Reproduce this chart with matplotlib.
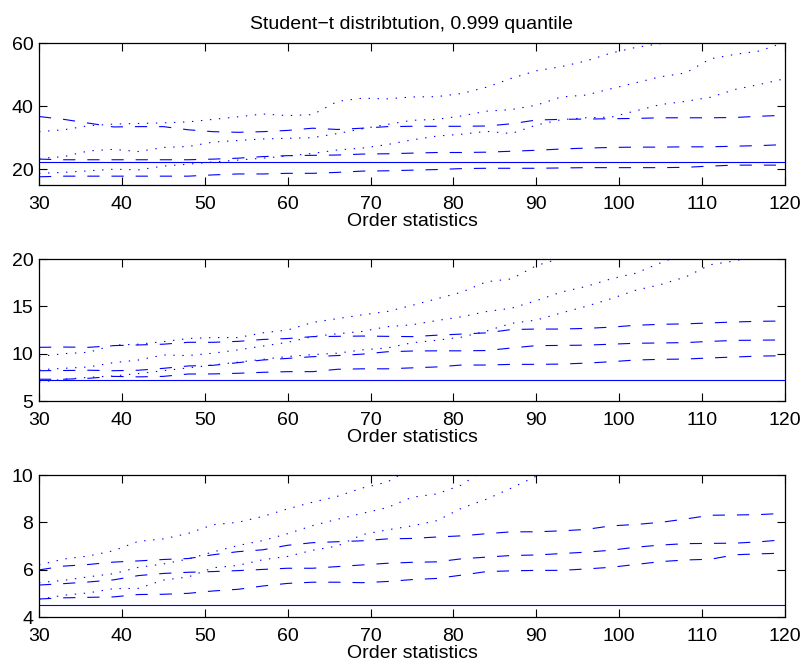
import numpy as np
import matplotlib
matplotlib.use("Agg")
import matplotlib.pyplot as plt

plt.rcParams['font.family'] = ['Liberation Sans', 'DejaVu Sans']
plt.rcParams['font.size'] = 14
plt.rcParams['lines.scale_dashes'] = False

order_stat = [30, 33, 36, 39, 42, 45, 48, 51, 54, 57, 60, 63, 66, 69, 72, 75,
              78, 81, 84, 87, 90, 93, 96, 99, 102, 105, 108, 111, 114, 117, 120]

# true 0.999 quantiles of t with 2, 4 and 8 degrees of freedom
true_q = [22.327, 7.173, 4.501]

# panel 1
p1_dash_hi = [36.7, 35.8, 34.6, 33.4, 33.5, 33.5, 32.5, 31.9, 31.7, 31.9, 32.3, 33.0, 32.6, 33.0, 33.5, 33.6,
              33.6, 33.6, 33.7, 34.4, 35.6, 35.8, 35.9, 36.0, 36.1, 36.3, 36.3, 36.3, 36.4, 36.8, 37.1]
p1_dash_mid = [23.2, 23.0, 23.0, 23.0, 23.0, 23.0, 23.0, 23.2, 23.5, 24.0, 24.3, 24.4, 24.5, 24.8, 24.9, 25.1,
               25.3, 25.3, 25.4, 25.7, 26.0, 26.4, 26.7, 26.9, 27.0, 27.0, 27.1, 27.1, 27.3, 27.5, 27.8]
p1_dash_lo = [17.6, 17.8, 17.8, 17.8, 17.8, 17.8, 17.8, 18.2, 18.5, 18.5, 18.7, 18.7, 19.0, 19.4, 19.5, 19.7,
              19.9, 20.2, 20.3, 20.3, 20.3, 20.4, 20.5, 20.5, 20.5, 20.5, 20.6, 21.0, 21.3, 21.3, 21.3]
p1_dot_hi = [31.9, 32.5, 33.8, 34.3, 34.5, 34.7, 35.0, 35.8, 36.6, 37.5, 37.0, 37.3, 41.5, 42.5, 42.3, 42.9,
             43.0, 44.0, 46.0, 48.8, 51.2, 52.5, 54.3, 56.8, 58.6, 59.8, 62.0]
p1_dot_mid = [23.4, 24.0, 25.8, 26.3, 25.6, 26.9, 27.2, 28.6, 29.1, 29.6, 29.8, 30.0, 31.3, 32.8, 34.2, 35.5,
              35.8, 36.9, 38.4, 38.9, 40.3, 42.9, 43.5, 45.5, 47.4, 49.3, 50.5, 55.0, 56.4, 57.5, 60.3]
p1_dot_lo = [18.7, 19.0, 19.5, 20.0, 19.8, 21.0, 21.6, 22.3, 22.9, 23.5, 24.2, 25.0, 26.1, 26.7, 27.8, 29.3,
             30.5, 31.1, 32.0, 31.3, 34.0, 35.7, 36.3, 36.5, 38.5, 40.5, 41.5, 42.8, 45.3, 46.9, 48.7]

# panel 2
p2_dash_hi = [10.67, 10.7, 10.67, 10.85, 10.92, 11.0, 11.2, 11.2, 11.3, 11.5, 11.6, 11.8, 11.83, 11.86, 11.83, 11.8,
              11.95, 12.07, 12.2, 12.55, 12.6, 12.6, 12.67, 12.8, 13.0, 13.1, 13.15, 13.25, 13.35, 13.42, 13.45]
p2_dash_mid = [8.2, 8.22, 8.25, 8.2, 8.25, 8.45, 8.7, 8.77, 9.05, 9.33, 9.5, 9.68, 9.8, 9.95, 10.2, 10.28,
               10.3, 10.3, 10.33, 10.6, 10.85, 10.87, 10.9, 11.0, 11.1, 11.13, 11.17, 11.3, 11.4, 11.43, 11.45]
p2_dash_lo = [7.3, 7.3, 7.4, 7.6, 7.55, 7.6, 7.85, 7.86, 7.93, 8.03, 8.1, 8.1, 8.35, 8.4, 8.4, 8.5,
              8.6, 8.8, 8.8, 8.87, 8.87, 8.9, 9.0, 9.15, 9.33, 9.4, 9.43, 9.55, 9.65, 9.75, 9.78]
p2_dot_hi = [9.7, 10.0, 10.15, 10.9, 11.0, 11.27, 11.6, 11.7, 11.7, 12.2, 12.5, 13.3, 13.7, 14.1, 14.45, 15.1,
             15.8, 16.5, 17.6, 17.9, 19.3, 20.1, 21.0]
p2_dot_mid = [8.3, 8.45, 8.6, 9.05, 9.33, 9.86, 9.8, 10.05, 10.4, 10.8, 11.2, 11.8, 12.1, 12.35, 12.85, 13.05,
              13.5, 13.9, 14.45, 14.8, 15.6, 16.5, 17.1, 17.9, 18.5, 19.6, 20.6]
p2_dot_lo = [7.0, 7.3, 7.5, 7.65, 7.9, 8.2, 8.5, 8.8, 9.1, 9.4, 9.7, 9.9, 10.05, 10.4, 10.6, 11.15,
             11.42, 11.75, 12.4, 13.2, 13.55, 14.3, 15.0, 15.8, 16.7, 17.3, 18.1, 19.4, 19.8, 20.5]

# panel 3
p3_dash_hi = [5.99, 6.15, 6.22, 6.32, 6.37, 6.43, 6.47, 6.63, 6.76, 6.84, 7.03, 7.14, 7.18, 7.22, 7.3, 7.32,
              7.38, 7.43, 7.52, 7.6, 7.6, 7.64, 7.7, 7.85, 7.91, 8.0, 8.14, 8.3, 8.31, 8.33, 8.38]
p3_dash_mid = [5.35, 5.41, 5.48, 5.57, 5.75, 5.84, 5.89, 5.92, 5.96, 6.01, 6.06, 6.06, 6.13, 6.2, 6.27, 6.31,
               6.33, 6.46, 6.53, 6.6, 6.62, 6.68, 6.74, 6.82, 6.95, 7.04, 7.1, 7.11, 7.12, 7.18, 7.27]
p3_dash_lo = [4.76, 4.81, 4.83, 4.85, 4.95, 4.96, 5.0, 5.1, 5.17, 5.31, 5.42, 5.47, 5.47, 5.45, 5.5, 5.58,
              5.63, 5.77, 5.92, 5.95, 5.97, 5.97, 6.03, 6.1, 6.22, 6.34, 6.41, 6.44, 6.63, 6.67, 6.7]
p3_dot_hi = [6.2, 6.45, 6.58, 6.8, 7.2, 7.3, 7.53, 7.9, 8.0, 8.25, 8.57, 8.85, 9.1, 9.45, 9.7, 10.3]
p3_dot_mid = [5.45, 5.55, 5.7, 5.83, 6.1, 6.24, 6.45, 6.75, 7.02, 7.23, 7.52, 7.86, 8.13, 8.38, 8.62, 9.06,
              9.2, 9.58, 10.3]
p3_dot_lo = [4.75, 4.92, 5.02, 5.2, 5.21, 5.56, 5.69, 6.08, 6.18, 6.42, 6.56, 6.82, 7.0, 7.48, 7.68, 7.85,
             8.07, 8.6, 8.98, 9.45, 9.95, 10.4]

x_ticks = [30, 40, 50, 60, 70, 80, 90, 100, 110, 120]
y_ticks = [[20, 40, 60], [5, 10, 15, 20], [4, 6, 8, 10]]
y_lims = [(15, 60), (5, 20), (4, 10)]

dashed = [[p1_dash_hi, p1_dash_mid, p1_dash_lo],
          [p2_dash_hi, p2_dash_mid, p2_dash_lo],
          [p3_dash_hi, p3_dash_mid, p3_dash_lo]]
dotted = [[p1_dot_hi, p1_dot_mid, p1_dot_lo],
          [p2_dot_hi, p2_dot_mid, p2_dot_lo],
          [p3_dot_hi, p3_dot_mid, p3_dot_lo]]


def pad(vals):
    # series that leave the top of the panel stop early
    out = np.full(len(order_stat), np.nan)
    out[:len(vals)] = vals
    return out


fig = plt.figure(figsize=(8.04, 6.68), dpi=100)
W, H = 804, 668
left, right = 39, 785
tops = [43, 259, 475]
ax_h = 142

for i in range(3):
    ax = fig.add_axes([left / W, (H - tops[i] - ax_h) / H, (right - left) / W, ax_h / H])
    ax.axhline(true_q[i], color='b', lw=0.8)
    for s in dashed[i]:
        ax.plot(order_stat, pad(s), color='b', lw=0.8, dashes=(8.8, 8.6))
    for s in dotted[i]:
        ax.plot(order_stat, pad(s), color='b', lw=0.8, dashes=(1.0, 5.5))
    ax.set_xlim(30, 120)
    ax.set_ylim(*y_lims[i])
    ax.set_xticks(x_ticks)
    ax.set_yticks(y_ticks[i])
    ax.tick_params(direction='in', top=True, right=True, length=5.5, width=0.8)
    ax.tick_params(axis='x', pad=8)
    ax.tick_params(axis='y', pad=4)
    for sp in ax.spines.values():
        sp.set_linewidth(0.9)
    ax.set_xlabel('Order statistics', labelpad=0)
    if i == 0:
        ax.set_title('Student\u2212t distribtution, 0.999 quantile', fontsize=14, pad=10)

fig.savefig('out.png', dpi=100)
